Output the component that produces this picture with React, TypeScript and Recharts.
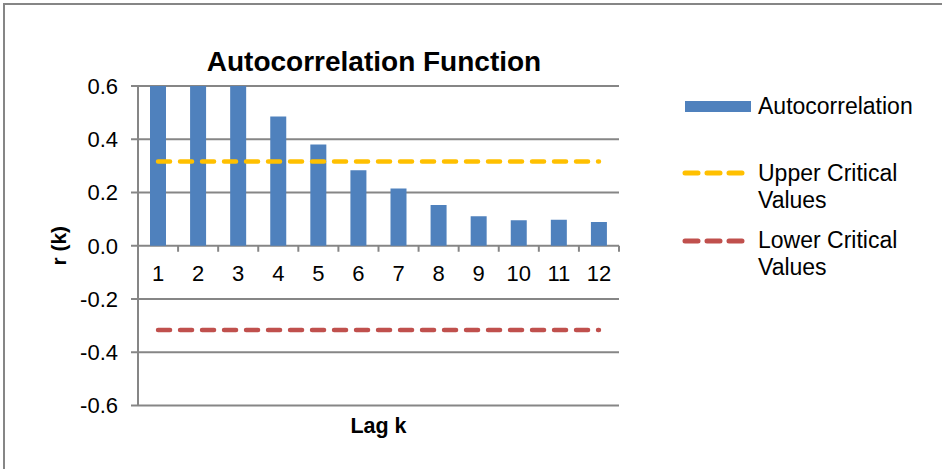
import React from 'react';
import { ComposedChart, Bar, Line, XAxis, YAxis, CartesianGrid } from 'recharts';

const lags = [1, 2, 3, 4, 5, 6, 7, 8, 9, 10, 11, 12];
const autocorrelation = [0.88, 0.76, 0.63, 0.485, 0.38, 0.284, 0.215, 0.153, 0.111, 0.096, 0.098, 0.089];
const upperCritical = [0.316, 0.316, 0.316, 0.316, 0.316, 0.316, 0.316, 0.316, 0.316, 0.316, 0.316, 0.316];
const lowerCritical = [-0.316, -0.316, -0.316, -0.316, -0.316, -0.316, -0.316, -0.316, -0.316, -0.316, -0.316, -0.316];
const yTicks = [-0.6, -0.4, -0.2, 0, 0.2, 0.4, 0.6];

const data = lags.map((lag, i) => ({
  lag,
  acf: autocorrelation[i],
  upper: upperCritical[i],
  lower: lowerCritical[i],
}));

const W = 942;
const H = 469;
const LEFT = 138;
const RIGHT = 619;
const TOP = 86;
const BOTTOM = 405.5;
const PLOT_H = BOTTOM - TOP;
const BAND = (RIGHT - LEFT) / lags.length;
const ZERO_Y = TOP + PLOT_H / 2;

const FONT = '"Liberation Sans", Arial, sans-serif';
const GRID = '#868686';
const BLUE = '#4F81BD';
const GOLD = '#FFC000';
const RED = '#C0504D';

// category labels sit on the 0.0 line, not at the bottom of the plot
const LagTick = (props: any) => {
  const { x, payload } = props;
  return (
    <g>
      <line x1={x + BAND / 2} x2={x + BAND / 2} y1={ZERO_Y} y2={ZERO_Y + 6} stroke={GRID} strokeWidth={2} />
      <text x={x} y={ZERO_Y + 35} textAnchor="middle" fontSize={22} fontFamily={FONT} fill="#000">
        {payload.value}
      </text>
    </g>
  );
};

const App = () => {
  return (
    <div style={{ position: 'relative', width: W, height: H, background: '#fff', overflow: 'hidden' }}>
      <style>{'body{margin:0}'}</style>
      <ComposedChart
        width={W}
        height={H}
        data={data}
        margin={{ top: TOP, right: W - RIGHT, bottom: 0, left: 0 }}
      >
        <CartesianGrid vertical={false} stroke={GRID} strokeWidth={2} />
        <XAxis
          dataKey="lag"
          height={H - BOTTOM}
          axisLine={false}
          tickLine={false}
          tick={<LagTick />}
          interval={0}
          label={{
            content: (p: any) => {
              const vb = p.viewBox || {};
              return (
                <text x={vb.x + vb.width / 2} y={vb.y + 27} textAnchor="middle" fontSize={21.5} fontWeight="bold" fontFamily={FONT} fill="#000">
                  Lag k
                </text>
              );
            },
          }}
        />
        <YAxis
          width={LEFT}
          domain={[-0.6, 0.6]}
          ticks={yTicks}
          allowDataOverflow
          tickFormatter={(v: number) => v.toFixed(1)}
          axisLine={{ stroke: GRID, strokeWidth: 2 }}
          tickLine={{ stroke: GRID, strokeWidth: 2 }}
          tickSize={7}
          tickMargin={13}
          tick={{ fontSize: 22, fontFamily: FONT, fill: '#000' }}
          label={{
            content: (p: any) => {
              const vb = p.viewBox || {};
              const cy = vb.y + vb.height / 2;
              return (
                <text x={58} y={cy} transform={`rotate(-90 58 ${cy})`} textAnchor="middle" dominantBaseline="central" fontSize={21} fontWeight="bold" fontFamily={FONT} fill="#000">
                  r (k)
                </text>
              );
            },
          }}
        />
        <Bar dataKey="acf" name="Autocorrelation" fill={BLUE} barSize={16} isAnimationActive={false} />
        <Line dataKey="upper" name="Upper Critical Values" stroke={GOLD} strokeWidth={4.5} strokeDasharray="12 10" strokeLinecap="round" dot={false} activeDot={false} isAnimationActive={false} />
        <Line dataKey="lower" name="Lower Critical Values" stroke={RED} strokeWidth={4.5} strokeDasharray="12 10" strokeLinecap="round" dot={false} activeDot={false} isAnimationActive={false} />
      </ComposedChart>

      <svg width={W} height={H} style={{ position: 'absolute', left: 0, top: 0, pointerEvents: 'none' }}>
        <rect x={4} y={4} width={W + 10} height={H + 10} fill="none" stroke={GRID} strokeWidth={2} />
        <text x={374} y={71} textAnchor="middle" fontSize={28} fontWeight="bold" fontFamily={FONT} fill="#000">
          Autocorrelation Function
        </text>
        <g fontSize={23} fontFamily={FONT} fill="#000">
          <rect x={685} y={101} width={66} height={11} fill={BLUE} />
          <text x={758} y={114}>Autocorrelation</text>
          <line x1={685} x2={743} y1={173} y2={173} stroke={GOLD} strokeWidth={5} strokeDasharray="13 9" strokeLinecap="round" />
          <text x={758} y={181}>Upper Critical</text>
          <text x={758} y={208}>Values</text>
          <line x1={685} x2={743} y1={241} y2={241} stroke={RED} strokeWidth={5} strokeDasharray="13 9" strokeLinecap="round" />
          <text x={758} y={248}>Lower Critical</text>
          <text x={758} y={275}>Values</text>
        </g>
      </svg>
    </div>
  );
};

export default App;
